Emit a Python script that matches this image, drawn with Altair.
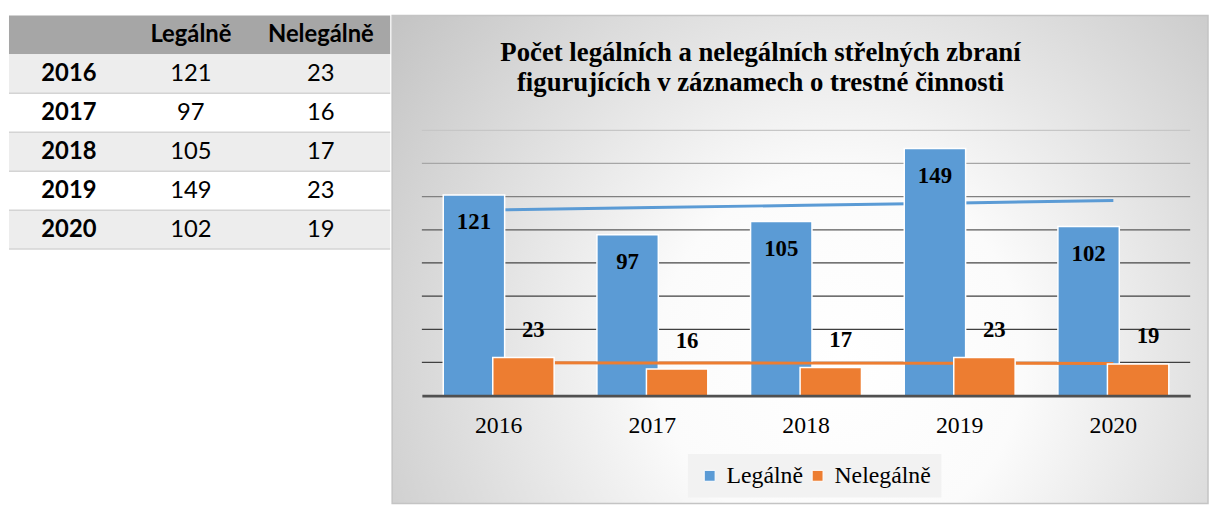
import altair as alt
import pandas as pd
import numpy as np

years = ["2016", "2017", "2018", "2019", "2020"]
legalne = [121, 97, 105, 149, 102]
nelegalne = [23, 16, 17, 23, 19]
series_names = ["Legálně", "Nelegálně"]
title_lines = ["Počet legálních a nelegálních střelných zbraní",
               "figurujících v záznamech o trestné činnosti"]
grid_values = [20, 40, 60, 80, 100, 120, 140, 160]
grid_colors = ["#404040", "#404040", "#404040", "#464646", "#5a5a5a", "#808080", "#a6a6a6", "#c6c6c6"]

BLUE = "#5b9bd5"
ORANGE = "#ed7d31"
SERIF = "Liberation Serif"
SANS = "Lato"

W, H = 776, 268          # plot area of the bar chart
TOP_EXT = 116            # chart frame extends this far above the plot area

# ---------------- table (left) ----------------
TW, TH = 385, 236
rows = ["hdr"] + years
bg_df = pd.DataFrame({"row": rows, "idx": list(range(len(rows)))})

bold_cells = pd.DataFrame({
    "row": ["hdr", "hdr"] + years,
    "col": ["leg", "neleg"] + ["year"] * len(years),
    "text": series_names + years,
})
val_cells = pd.DataFrame({
    "row": years * 2,
    "col": ["leg"] * len(years) + ["neleg"] * len(years),
    "text": [str(v) for v in legalne] + [str(v) for v in nelegalne],
})
col_x = {"year": 60.5, "leg": 183.7, "neleg": 315}

tscale = alt.Scale(domain=rows, paddingInner=0, paddingOuter=0, range=[-TOP_EXT, TH - TOP_EXT])
ty = alt.Y("row:N", scale=tscale, axis=None)

t_head = alt.Chart(bg_df[bg_df.row == "hdr"]).mark_rect(fill="#a6a6a6").encode(
    y=ty, x=alt.value(0), x2=alt.value(TW))
t_shade = alt.Chart(bg_df[(bg_df.idx % 2 == 1)]).mark_rect(fill="#ededed").encode(
    y=ty, x=alt.value(0), x2=alt.value(TW))
t_lines = alt.Chart(bg_df[bg_df.row != "hdr"]).mark_rule(color="#d4d4d4", strokeWidth=1.5).encode(
    y=alt.Y("row:N", bandPosition=1, scale=tscale, axis=None),
    x=alt.value(0), x2=alt.value(TW),
)
t_layers = [t_head, t_shade, t_lines]
for c, px in col_x.items():
    t_layers.append(alt.Chart(bold_cells[bold_cells.col == c]).mark_text(
        font=SANS, fontSize=24, fontWeight="bold", color="#000", baseline="middle", align="center"
    ).encode(y=ty, x=alt.value(px), text="text:N"))
    if c != "year":
        t_layers.append(alt.Chart(val_cells[val_cells.col == c]).mark_text(
            font=SANS, fontSize=24, color="#000", baseline="middle", align="center"
        ).encode(y=ty, x=alt.value(px), text="text:N"))

table = alt.layer(*t_layers).properties(width=TW, height=TH - TOP_EXT)

# ---------------- bar chart (right) ----------------
idx = np.arange(len(years))

def trend(vals):
    k, b = np.polyfit(idx, np.array(vals, dtype=float), 1)
    return list(k * idx + b)

bars_df = pd.DataFrame({
    "year": years * 2,
    "series": [s for s in series_names for _ in years],
    "value": legalne + nelegalne,
})
trend_df = pd.DataFrame({
    "year": years * 2,
    "series": [s for s in series_names for _ in years],
    "value": trend(legalne) + trend(nelegalne),
})
grid_df = pd.DataFrame({"g": grid_values})
one = pd.DataFrame({"a": [0]})

xenc = alt.X("year:N", scale=alt.Scale(domain=years, paddingInner=0, paddingOuter=0),
             axis=alt.Axis(title=None, labelAngle=0, labelFont=SERIF, labelFontSize=24,
                           labelColor="#000", ticks=False, domainColor="#505050",
                           domainWidth=3, labelPadding=18, grid=False, zindex=1))
yscale = alt.Scale(domain=[0, 160], nice=False)
yenc = alt.Y("value:Q", scale=yscale, axis=None)
cenc = alt.Color("series:N", scale=alt.Scale(domain=series_names, range=[BLUE, ORANGE]),
                 legend=alt.Legend(title=None, orient="none", legendX=268.7, legendY=327,
                                   direction="horizontal", symbolType="square", symbolSize=121,
                                   symbolStrokeColor="white", symbolStrokeWidth=1,
                                   labelFont=SERIF, labelFontSize=24, labelColor="#000",
                                   labelOffset=5, columnPadding=2,
                                   padding=10, fillColor="#f2f2f2"))

bg = alt.Chart(one).mark_rect(
    fill={"gradient": "radial", "x1": 0.55, "y1": 0.62, "r1": 0,
          "x2": 0.55, "y2": 0.62, "r2": 0.75,
          "stops": [{"offset": 0, "color": "#ffffff"},
                    {"offset": 0.3, "color": "#fbfbfb"},
                    {"offset": 1, "color": "#bcbcbc"}]},
    stroke="#c4c4c4", strokeWidth=1.5,
).encode(x=alt.value(-30), x2=alt.value(W + 18), y=alt.value(-TOP_EXT), y2=alt.value(H + 109))

title = alt.Chart(one).mark_text(
    text=title_lines, font=SERIF, fontSize=27, fontWeight="bold", color="#000",
    align="center", baseline="alphabetic", lineHeight=30,
).encode(x=alt.value(W / 2 - 46), y=alt.value(-69.7))

rules = alt.Chart(grid_df).mark_rule(strokeWidth=1.3).encode(
    y=alt.Y("g:Q", scale=yscale, axis=None),
    x=alt.value(0), x2=alt.value(W),
    stroke=alt.Stroke("g:O", scale=alt.Scale(domain=grid_values, range=grid_colors), legend=None),
)

def sel(df, s):
    return df[df.series == s]

tr_blue = alt.Chart(sel(trend_df, series_names[0])).mark_line(color=BLUE, strokeWidth=3).encode(
    x=xenc, y=yenc)
tr_orange = alt.Chart(sel(trend_df, series_names[1])).mark_line(color=ORANGE, strokeWidth=3).encode(
    x=xenc, y=yenc)
bar_blue = alt.Chart(sel(bars_df, series_names[0])).mark_bar(
    width=62, xOffset=-25, stroke="white", strokeWidth=1.5).encode(x=xenc, y=yenc, color=cenc)
bar_orange = alt.Chart(sel(bars_df, series_names[1])).mark_bar(
    width=62, xOffset=25, stroke="white", strokeWidth=1.5).encode(x=xenc, y=yenc, color=cenc)
lab_blue = alt.Chart(sel(bars_df, series_names[0])).mark_text(
    font=SERIF, fontSize=23, fontWeight="bold", color="#000", baseline="middle",
    xOffset=-25, dy=27.5).encode(x=xenc, y=yenc, text="value:Q")
lab_orange = alt.Chart(sel(bars_df, series_names[1])).mark_text(
    font=SERIF, fontSize=23, fontWeight="bold", color="#000", baseline="middle",
    xOffset=25, dx=10, dy=-28).encode(x=xenc, y=yenc, text="value:Q")

chart = alt.layer(bg, title, rules, tr_blue, bar_blue, tr_orange, bar_orange,
                  lab_blue, lab_orange).properties(width=W, height=H)

full = alt.hconcat(table, chart, spacing=0).resolve_scale(
    color="independent", stroke="independent"
).properties(
    padding={"left": 0, "top": 4, "right": 0, "bottom": 0},
    background="white",
).configure_view(stroke=None).configure_legend(labelFont=SERIF, labelFontSize=24)

full.save("out.html", embed_options={"renderer": "svg", "actions": False})
